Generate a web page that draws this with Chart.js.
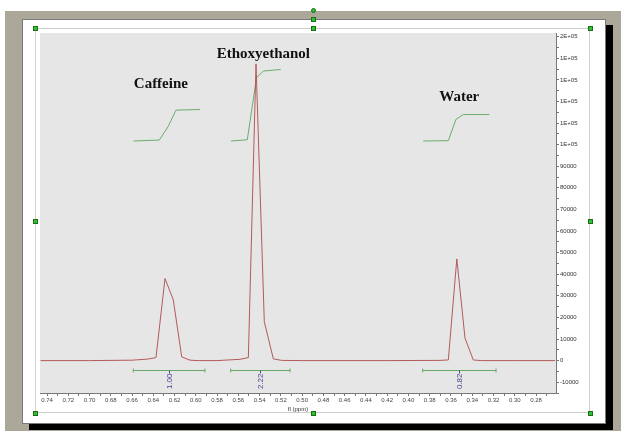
<!DOCTYPE html>
<html>
<head>
<meta charset="utf-8">
<script src="https://cdn.jsdelivr.net/npm/chart.js@4.4.1/dist/chart.umd.min.js"></script>
<style>
  body { margin: 0; background: #fff; width: 621px; height: 431px; overflow: hidden; position: relative; font-family: 'Liberation Sans', sans-serif; }
  #desk { position: absolute; left: 5px; top: 11px; width: 616px; height: 420px; background: #aca899; }
  #page { position: absolute; left: 22px; top: 19px; width: 582px; height: 403px; background: #fff; border: 1px solid #7a7a7a; box-shadow: 7px 6px 0 #000; }
  #frame { position: absolute; left: 35px; top: 28px; width: 555px; height: 385px; border: 1px solid #cfcfcf; box-sizing: border-box; }
  #wrap { position: absolute; left: 35px; top: 28px; width: 555px; height: 385px; }
  .h { position: absolute; width: 5px; height: 5px; background: #2fbf2f; border: 1px solid #1a6e1a; box-sizing: border-box; }
</style>
</head>
<body>
<div id="desk"></div>
<div id="page"></div>
<div id="frame"></div>
<div id="wrap"><canvas id="nmr" width="555" height="385"></canvas></div>
<div class="h" style="left:311px;top:8px;border-radius:3px"></div>
<div class="h" style="left:311px;top:17px"></div>
<div class="h" style="left:33px;top:26px"></div>
<div class="h" style="left:311px;top:26px"></div>
<div class="h" style="left:588px;top:26px"></div>
<div class="h" style="left:33px;top:219px"></div>
<div class="h" style="left:588px;top:219px"></div>
<div class="h" style="left:33px;top:411px"></div>
<div class="h" style="left:311px;top:411px"></div>
<div class="h" style="left:588px;top:411px"></div>
<script>
// spectrum (ppm / intensity)
const specPpm = [0.746, 0.700, 0.660, 0.6453, 0.6375, 0.629, 0.6212, 0.6133, 0.6055, 0.5977, 0.580,
                 0.5584, 0.5506, 0.5434, 0.5356, 0.5271, 0.5193, 0.500, 0.420,
                 0.3703, 0.3625, 0.3545, 0.3468, 0.3390, 0.3312, 0.300, 0.262];
const specInt = [0, 0, 200, 700, 1400, 38000, 28100, 1700, 200, 0, 0,
                 600, 1400, 137400, 18000, 800, 100, 0, 0,
                 100, 300, 47100, 10400, 300, 0, 0, 0];

// integral curves
const caffPpm = [0.6588, 0.6344, 0.6262, 0.6187, 0.5961];
const caffInt = [0, 0.03, 0.45, 0.98, 1.0];
const ethPpm = [0.5669, 0.5516, 0.5446, 0.5427, 0.5365, 0.5202];
const ethInt = [0, 0.04, 1.62, 2.02, 2.22, 2.27];
const watPpm = [0.386, 0.3625, 0.3553, 0.3484, 0.3239];
const watInt = [0, 0.01, 0.69, 0.84, 0.84];

// integration ranges
const rangeFrom = [0.6588, 0.5672, 0.3866];
const rangeTo = [0.5914, 0.5114, 0.3176];
const rangeLabels = ['1.00', '2.22', '0.82'];

// compound labels
const compoundNames = ['Caffeine', 'Ethoxyethanol', 'Water'];
const compoundPpm = [0.6329, 0.5365, 0.3522];
const compoundHeight = [128100, 142000, 122200];

// axis ticks (every other x tick and every other y tick carries a label)
const xTickValues = [0.74, 0.73, 0.72, 0.71, 0.70, 0.69, 0.68, 0.67, 0.66, 0.65, 0.64, 0.63, 0.62, 0.61,
                     0.60, 0.59, 0.58, 0.57, 0.56, 0.55, 0.54, 0.53, 0.52, 0.51, 0.50, 0.49, 0.48, 0.47,
                     0.46, 0.45, 0.44, 0.43, 0.42, 0.41, 0.40, 0.39, 0.38, 0.37, 0.36, 0.35, 0.34, 0.33,
                     0.32, 0.31, 0.30, 0.29, 0.28, 0.27];
const xTickLabels = ['0.74','0.72','0.70','0.68','0.66','0.64','0.62','0.60','0.58','0.56','0.54','0.52',
                     '0.50','0.48','0.46','0.44','0.42','0.40','0.38','0.36','0.34','0.32','0.30','0.28'];
const yTickValues = [-15000, -10000, -5000, 0, 5000, 10000, 15000, 20000, 25000, 30000, 35000, 40000,
                     45000, 50000, 55000, 60000, 65000, 70000, 75000, 80000, 85000, 90000, 95000,
                     100000, 105000, 110000, 115000, 120000, 125000, 130000, 135000, 140000, 145000, 150000];
const yTickLabels = ['', '-10000', '', '0', '', '10000', '', '20000', '', '30000', '', '40000',
                     '', '50000', '', '60000', '', '70000', '', '80000', '', '90000', '',
                     '1E+05', '', '1E+05', '', '1E+05', '', '1E+05', '', '1E+05', '', '2E+05'];

const pts = (xs, ys) => xs.map((x, i) => ({ x: x, y: ys[i] }));

const decor = {
  id: 'decor',
  beforeDraw(chart) {
    const a = chart.chartArea, c = chart.ctx;
    c.save();
    c.fillStyle = '#e6e6e6';
    c.fillRect(a.left, a.top, a.right - a.left, a.bottom - a.top);
    c.restore();
  },
  afterDatasetsDraw(chart) {
    const c = chart.ctx, xs = chart.scales.x, ys = chart.scales.y;
    c.save();
    // integration bars
    const by = Math.round(ys.getPixelForValue(-4300)) + 0.5;
    rangeFrom.forEach((f, i) => {
      const x1 = xs.getPixelForValue(f), x2 = xs.getPixelForValue(rangeTo[i]);
      const cx = Math.round((x1 + x2) / 2) + 0.5;
      c.strokeStyle = '#6aa86a';
      c.lineWidth = 1;
      c.beginPath();
      c.moveTo(x1, by); c.lineTo(x2, by);
      c.moveTo(x1, by - 2); c.lineTo(x1, by + 2);
      c.moveTo(x2, by - 2); c.lineTo(x2, by + 2);
      c.stroke();
      c.strokeStyle = '#4a4a8a';
      c.beginPath();
      c.moveTo(cx, by); c.lineTo(cx, by + 3);
      c.stroke();
      c.translate(cx, by + 3);
      c.rotate(-Math.PI / 2);
      c.fillStyle = '#45458f';
      c.font = '8px "Liberation Sans"';
      c.textAlign = 'right';
      c.textBaseline = 'middle';
      c.fillText(rangeLabels[i], 0, 0.5);
      c.setTransform(1, 0, 0, 1, 0, 0);
    });
    // compound names
    c.fillStyle = '#111';
    c.font = 'bold 15px "Liberation Serif"';
    c.textAlign = 'center';
    c.textBaseline = 'middle';
    compoundNames.forEach((n, i) => {
      c.fillText(n, xs.getPixelForValue(compoundPpm[i]), ys.getPixelForValue(compoundHeight[i]));
    });
    c.restore();
  }
};

new Chart(document.getElementById('nmr'), {
  type: 'line',
  data: {
    datasets: [
      { data: pts(specPpm, specInt), borderColor: '#b35a5a', borderWidth: 1, pointRadius: 0, yAxisID: 'y' },
      { data: pts(caffPpm, caffInt), borderColor: '#6aae6a', borderWidth: 1, pointRadius: 0, yAxisID: 'yInt' },
      { data: pts(ethPpm, ethInt), borderColor: '#6aae6a', borderWidth: 1, pointRadius: 0, yAxisID: 'yInt' },
      { data: pts(watPpm, watInt), borderColor: '#6aae6a', borderWidth: 1, pointRadius: 0, yAxisID: 'yInt' }
    ]
  },
  options: {
    responsive: false,
    animation: false,
    layout: { padding: { left: 5, top: 5, right: 0, bottom: 0 } },
    plugins: { legend: { display: false }, tooltip: { enabled: false } },
    scales: {
      x: {
        type: 'linear',
        reverse: true,
        min: 0.2612,
        max: 0.7466,
        afterFit: (s) => { s.height = 20; },
        afterBuildTicks: (s) => { s.ticks = xTickValues.map(v => ({ value: v })); },
        border: { display: true, color: '#777', width: 1 },
        grid: { drawOnChartArea: false, drawTicks: true, tickLength: 3, color: '#777' },
        ticks: {
          autoSkip: false,
          maxRotation: 0,
          padding: 1,
          color: '#444',
          font: { size: 6, family: 'Liberation Sans' },
          callback: (v) => xTickLabels.includes(v.toFixed(2)) ? v.toFixed(2) : ''
        },
        title: { display: true, text: 'fl (ppm)', color: '#333', font: { size: 6, family: 'Liberation Sans' }, padding: 0 }
      },
      y: {
        type: 'linear',
        position: 'right',
        min: -15000,
        max: 151700,
        afterFit: (s) => { s.width = 34; },
        afterBuildTicks: (s) => { s.ticks = yTickValues.map(v => ({ value: v })); },
        border: { display: true, color: '#777', width: 1 },
        grid: { drawOnChartArea: false, drawTicks: true, tickLength: 3, color: '#777' },
        ticks: {
          autoSkip: false,
          padding: 1,
          color: '#333',
          font: { size: 6, family: 'Liberation Sans' },
          callback: (v) => { const i = yTickValues.indexOf(Math.round(v)); return i >= 0 ? yTickLabels[i] : ''; }
        }
      },
      yInt: {
        type: 'linear',
        display: false,
        min: -8,
        max: 3.4286
      }
    }
  },
  plugins: [decor]
});
</script>
</body>
</html>
